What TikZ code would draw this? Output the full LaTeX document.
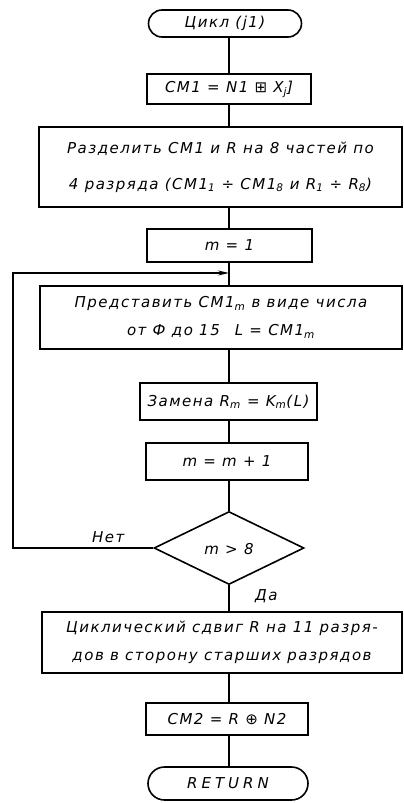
\documentclass[tikz,border=0pt]{standalone}
\usepackage{fontspec}
\setmainfont{DejaVu Sans}
\newfontfamily\gost{DejaVu Sans}[LetterSpace=10]
\usetikzlibrary{shapes.geometric,shapes.misc,arrows.meta}
\newcommand{\sbs}[1]{\textsubscript{#1}}
\begin{document}
\begin{tikzpicture}[x=1pt,y=-1pt,
  every node/.style={font=\gost\itshape\fontsize{15}{17}\selectfont},
  procbox/.style={draw,line width=1.6pt,rectangle,inner sep=0pt,align=center},
  termbox/.style={draw,line width=1.6pt,rounded rectangle,inner sep=0pt,align=center},
  decbox/.style={draw,line width=1.6pt,diamond,inner sep=0pt,aspect=2},
  conn/.style={line width=1.3pt},
  lbl/.style={inner sep=0pt}]
\useasboundingbox (0,0) rectangle (404,803);
\coordinate (X) at (229,0);
\node[termbox,minimum width=153pt,minimum height=27pt] (start) at (225,23.5) {Цикл (j1)};
\node[procbox,minimum width=164pt,minimum height=30pt] (cm1) at (229,89) {СМ1 = N1 ⊞ X\sbs{j}]};
\node[procbox,minimum width=363pt,minimum height=80pt] (split) at (220.5,167)
  {Разделить СМ1 и R на 8 частей по\\[19pt]4 разряда (СМ1\sbs{1} ÷ СМ1\sbs{8} и R\sbs{1} ÷ R\sbs{8})};
\node[procbox,minimum width=165pt,minimum height=33pt] (m1) at (229.5,245.5) {m = 1};
\node[procbox,minimum width=362pt,minimum height=63pt] (repr) at (221,317.5)
  {Представить СМ1\sbs{m} в виде числа\\[11pt]от Ф до 15\quad L = СМ1\sbs{m}};
\node[procbox,minimum width=177pt,minimum height=37pt] (zam) at (228.5,401.5) {Замена R\sbs{m} = K\sbs{m}(L)};
\node[procbox,minimum width=162pt,minimum height=37pt] (inc) at (227,461.5) {m = m + 1};
\node[decbox,minimum width=150pt,minimum height=73pt] (dia) at (229,548) {};
\node[lbl] (diat) at (229,549) {m > 8};
\node[procbox,minimum width=360pt,minimum height=61pt] (cyc) at (222,642.5)
  {Циклический сдвиг R на 11 разря-\\[11pt]дов в сторону старших разрядов};
\node[procbox,minimum width=162pt,minimum height=32pt] (cm2) at (227,719) {СМ2 = R ⊕ N2};
\node[termbox,minimum width=160pt,minimum height=33pt] (ret) at (228,783.5) {R\hspace{4pt}E\hspace{4pt}T\hspace{4pt}U\hspace{4pt}R\hspace{4pt}N};
\node[lbl,anchor=south west] (no) at (92,543) {Нет};
\node[lbl,anchor=north west] (yes) at (255,589) {Да};
\draw[conn] (start.south -| X) -- (cm1.north -| X);
\draw[conn] (cm1.south -| X) -- (split.north -| X);
\draw[conn] (split.south -| X) -- (m1.north -| X);
\draw[conn] (m1.south -| X) -- (repr.north -| X);
\draw[conn] (repr.south -| X) -- (zam.north -| X);
\draw[conn] (zam.south -| X) -- (inc.north -| X);
\draw[conn] (inc.south -| X) -- (dia.north);
\draw[conn] (dia.south) -- (cyc.north -| dia.south);
\draw[conn] (cyc.south -| X) -- (cm2.north -| X);
\draw[conn] (cm2.south -| X) -- (ret.north -| X);
\coordinate (lp) at (13,273);
\coordinate (jn) at (229,273);
\draw[conn,-{Stealth[length=11pt,width=5pt]}] (dia.west) -- (dia.west -| lp) -- (lp) -- (jn);
\end{tikzpicture}
\end{document}
